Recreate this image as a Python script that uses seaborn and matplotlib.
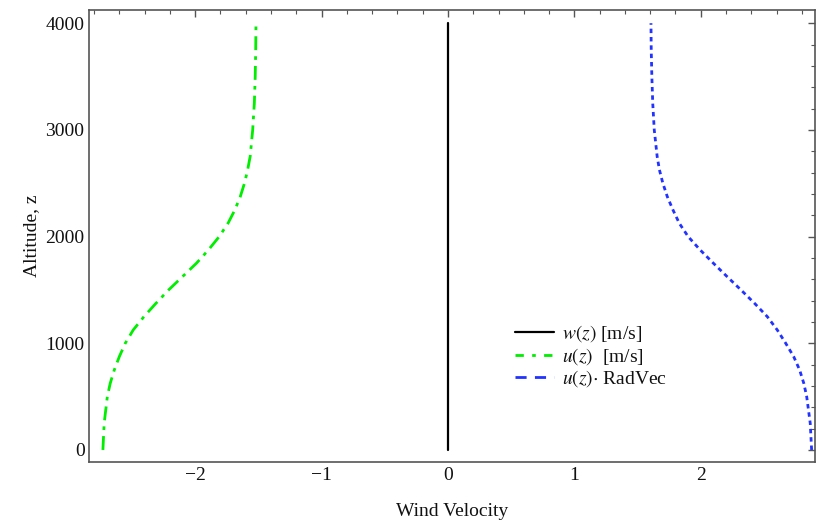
import matplotlib
matplotlib.use("Agg")
import matplotlib.pyplot as plt
import seaborn as sns
from matplotlib.ticker import MultipleLocator

# altitude grid and profiles
altitude = [0, 250, 500, 625, 750, 875, 1000, 1125, 1250, 1375, 1500, 1625, 1750,
            1875, 2000, 2125, 2250, 2375, 2500, 2625, 2750, 3000, 3250, 3500, 3750, 4000]
w_vals = [0.0] * len(altitude)
u_vals = [-2.73, -2.72, -2.695, -2.672, -2.64, -2.60, -2.553, -2.49, -2.405, -2.31,
          -2.21, -2.10, -1.99, -1.895, -1.81, -1.74, -1.686, -1.643, -1.61, -1.585,
          -1.565, -1.545, -1.532, -1.525, -1.521, -1.519]
u_rad_vals = [2.877, 2.866, 2.838, 2.815, 2.782, 2.735, 2.672, 2.605, 2.526, 2.425,
              2.318, 2.208, 2.10, 1.995, 1.90, 1.83, 1.78, 1.735, 1.70, 1.673,
              1.655, 1.632, 1.62, 1.613, 1.608, 1.606]

sns.set_style("white")
plt.rcParams['font.family'] = ['Liberation Serif', 'DejaVu Serif']
plt.rcParams['mathtext.fontset'] = 'stix'

fig = plt.figure(figsize=(8.17, 5.25), dpi=100)
ax = fig.add_axes([0.1094, 0.1206, 0.8882, 0.8604])

sns.lineplot(x=w_vals, y=altitude, sort=False, estimator=None, color="black",
             lw=1.6, ax=ax, label=r"$w(z)$ [m/s]")
sns.lineplot(x=u_vals, y=altitude, sort=False, estimator=None, color="#00ee00",
             lw=2.0, ax=ax, label=r"$u(z)$  [m/s]")
sns.lineplot(x=u_rad_vals, y=altitude, sort=False, estimator=None, color="#2233ff",
             lw=2.0, ax=ax, label=r"$u(z)$$\cdot$ RadVec")
ax.lines[1].set_dashes([5, 2.2, 1.3, 2.2])
ax.lines[2].set_dashes([1.6, 1.4])

ax.set_xlim(-2.837, 2.904)
ax.set_ylim(-110, 4124)
ax.xaxis.set_major_locator(MultipleLocator(1))
ax.xaxis.set_minor_locator(MultipleLocator(0.2))
ax.yaxis.set_major_locator(MultipleLocator(1000))
ax.yaxis.set_minor_locator(MultipleLocator(200))
ax.tick_params(which="both", direction="in", top=True, right=True, colors="#555555",
               labelcolor="#111111", labelsize=14)
ax.tick_params(which="major", length=5, width=1.0)
ax.tick_params(which="minor", length=3, width=0.8)
ax.set_xticks([-2, -1, 0, 1, 2])
ax.set_xticklabels(["\u22122", "\u22121", "0", "1", "2"])
for s in ax.spines.values():
    s.set_color("#555555")
    s.set_linewidth(1.2)

ax.set_xlabel("Wind Velocity", fontsize=14, color="#111111", labelpad=14)
ax.set_ylabel("Altitude, z", fontsize=14, color="#111111", labelpad=4)

leg = ax.legend(loc="upper left", bbox_to_anchor=(0.563, 0.345), frameon=False,
                fontsize=14, handlelength=2.0, handletextpad=0.4, labelspacing=0.08)
for t in leg.get_texts():
    t.set_color("#111111")
leg.get_lines()[1].set_dashes([3, 3, 1.3, 3])
leg.get_lines()[2].set_dashes([4, 3])

fig.savefig("out.png", dpi=100)
